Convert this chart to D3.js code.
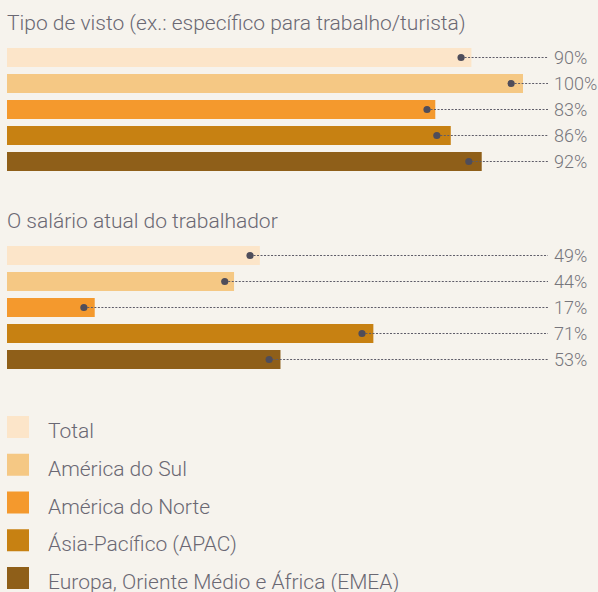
<!DOCTYPE html>
<html><head><meta charset="utf-8">
<script src="https://cdn.jsdelivr.net/npm/d3@7"></script>
<style>
html,body{margin:0;padding:0;background:#f6f3ed;}
svg{display:block;}
text{font-family:Roboto,"Noto Sans",sans-serif;}
</style></head>
<body><svg id="c" width="598" height="592"></svg>
<script>
const series = ["Total","América do Sul","América do Norte","Ásia-Pacífico (APAC)","Europa, Oriente Médio e África (EMEA)"];
const colors = ["#fce5c9","#f5c884","#f4992d","#c78112","#8f5f19"];
const groups = ["Tipo de visto (ex.: específico para trabalho/turista)","O salário atual do trabalhador"];
const barValues = [[90,100,83,86,92],[49,44,17,71,53]];
const dotValues = [[88,97.7,81.4,83.3,89.5],[47.1,42.2,14.9,68.8,50.8]];

const svg = d3.select("#c");
const x = d3.scaleLinear().domain([0,100]).range([7,523]);
const groupTop = [48,246];
const y = d3.scaleBand().domain(d3.range(series.length)).range([0,123]).paddingInner(7/26).paddingOuter(0);

groups.forEach((g,gi)=>{
  const G = svg.append("g").attr("transform",`translate(0,${groupTop[gi]})`);
  svg.append("text").attr("x",7).attr("y",groupTop[gi]-18)
    .attr("font-size",21).attr("font-weight",300).attr("fill","#6a6873").text(g);
  const rows = G.selectAll("g.row").data(series.map((s,i)=>({i,v:barValues[gi][i],d:dotValues[gi][i]})))
    .join("g").attr("class","row");
  rows.append("rect").attr("x",x(0)).attr("y",d=>y(d.i)).attr("height",y.bandwidth())
    .attr("width",d=>x(d.v)-x(0)).attr("fill",d=>colors[d.i]);
  rows.append("line").attr("x1",d=>x(d.d)).attr("x2",548)
    .attr("y1",d=>y(d.i)+y.bandwidth()/2).attr("y2",d=>y(d.i)+y.bandwidth()/2)
    .attr("stroke","#5e5c68").attr("stroke-width",1).attr("stroke-dasharray","2,1.5");
  rows.append("circle").attr("cx",d=>x(d.d)).attr("cy",d=>y(d.i)+y.bandwidth()/2).attr("r",3.6).attr("fill","#4f4d5a");
  rows.append("text").attr("x",554).attr("y",d=>y(d.i)+y.bandwidth()/2).attr("dy","0.36em")
    .attr("font-size",18).attr("font-weight",300).attr("fill","#77767c").text(d=>d.v+"%");
});

const legY = d3.scalePoint().domain(d3.range(series.length)).range([416,567]);
const L = svg.selectAll("g.leg").data(series).join("g").attr("class","leg")
  .attr("transform",(d,i)=>`translate(7,${legY(i)})`);
L.append("rect").attr("width",22).attr("height",22).attr("fill",(d,i)=>colors[i]);
L.append("text").attr("x",41).attr("y",22).attr("font-size",21).attr("font-weight",300)
  .attr("fill","#6a6873").text(d=>d);
</script></body></html>
